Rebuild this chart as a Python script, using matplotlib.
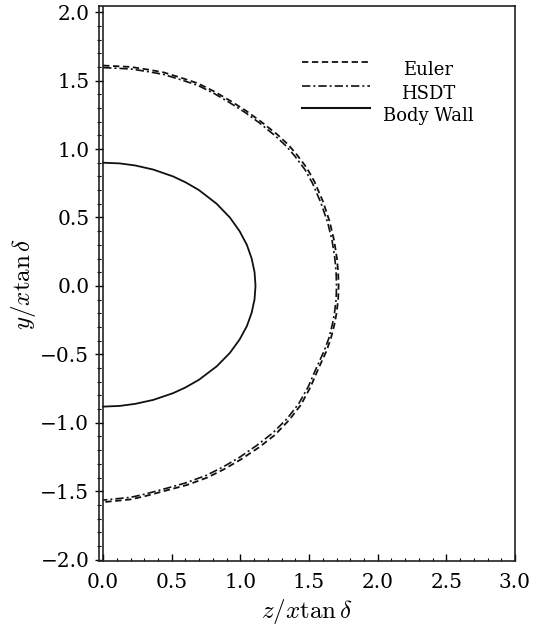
import matplotlib
matplotlib.use('Agg')
import matplotlib.pyplot as plt
from matplotlib.ticker import MultipleLocator, FuncFormatter
from matplotlib.lines import Line2D

plt.rcParams['font.family'] = ['DejaVu Serif']
plt.rcParams['mathtext.fontset'] = 'cm'
plt.rcParams['axes.unicode_minus'] = True

# Shock positions (z/x tan(delta), y/x tan(delta)), top to bottom
euler_z = [0.0, 0.2, 0.33, 0.44, 0.57, 0.69, 0.81, 0.93, 1.04, 1.15, 1.27, 1.35, 1.41, 1.485,
           1.54, 1.60, 1.65, 1.683, 1.703, 1.712, 1.715,
           1.712, 1.70, 1.685, 1.66, 1.625, 1.57, 1.51, 1.44, 1.355, 1.25, 1.135, 1.0,
           0.88, 0.76, 0.61, 0.44, 0.31, 0.2, 0.0]
euler_y = [1.61, 1.60, 1.58, 1.56, 1.52, 1.48, 1.42, 1.35, 1.28, 1.20, 1.105, 1.03, 0.96, 0.86,
           0.76, 0.62, 0.47, 0.33, 0.20, 0.10, 0.0,
           -0.10, -0.20, -0.28, -0.38, -0.48, -0.60, -0.74, -0.87, -0.98, -1.09, -1.18, -1.27,
           -1.34, -1.40, -1.455, -1.50, -1.535, -1.56, -1.58]

hsdt_z = [0.0, 0.2, 0.33, 0.44, 0.57, 0.69, 0.81, 0.92, 1.03, 1.14, 1.255, 1.335, 1.395, 1.47,
          1.525, 1.585, 1.635, 1.668, 1.688, 1.697, 1.70,
          1.697, 1.685, 1.67, 1.645, 1.61, 1.555, 1.495, 1.425, 1.34, 1.235, 1.12, 0.99,
          0.87, 0.75, 0.60, 0.44, 0.31, 0.2, 0.0]
hsdt_y = [1.595, 1.585, 1.565, 1.545, 1.505, 1.465, 1.405, 1.34, 1.27, 1.19, 1.095, 1.02, 0.95, 0.85,
          0.75, 0.61, 0.465, 0.33, 0.20, 0.10, 0.0,
          -0.10, -0.20, -0.28, -0.38, -0.475, -0.595, -0.735, -0.86, -0.97, -1.075, -1.165, -1.255,
          -1.325, -1.385, -1.44, -1.485, -1.52, -1.545, -1.565]

# Body wall cross-section
body_z = [0.0, 0.12, 0.233, 0.365, 0.509, 0.60, 0.698, 0.827, 0.923, 0.994, 1.047, 1.082, 1.103, 1.11,
          1.103, 1.082, 1.047, 0.994, 0.923, 0.827, 0.698, 0.60, 0.509, 0.365, 0.233, 0.12, 0.0]
body_y = [0.90, 0.895, 0.88, 0.85, 0.80, 0.757, 0.70, 0.60, 0.50, 0.40, 0.30, 0.20, 0.10, 0.0,
          -0.098, -0.196, -0.294, -0.392, -0.49, -0.588, -0.686, -0.742, -0.784, -0.833, -0.862, -0.877, -0.882]

fig = plt.figure(figsize=(5.34, 6.25), dpi=100)
ax = fig.add_axes([0.1854, 0.1024, 0.779, 0.888])

ax.plot(euler_z, euler_y, color='#111111', lw=1.3, dashes=(3.5, 2.0))
ax.plot(hsdt_z, hsdt_y, color='#111111', lw=1.2, dashes=(5.0, 1.8, 1.2, 1.8))
ax.plot(body_z, body_y, color='#111111', lw=1.3)
ax.axvline(0.0, color='#111111', lw=1.1)

ax.set_xlim(-0.03, 3.0)
ax.set_ylim(-2.01, 2.045)

ax.xaxis.set_major_locator(MultipleLocator(0.5))
ax.xaxis.set_minor_locator(MultipleLocator(0.1))
ax.yaxis.set_major_locator(MultipleLocator(0.5))
ax.yaxis.set_minor_locator(MultipleLocator(0.1))
fmt = FuncFormatter(lambda v, p: '%.1f' % v if v >= 0 else '\u2212%.1f' % abs(v))
ax.xaxis.set_major_formatter(fmt)
ax.yaxis.set_major_formatter(fmt)

ax.tick_params(axis='x', which='major', direction='in', length=5, width=1.0, labelsize=14.5, pad=9)
ax.tick_params(axis='x', which='minor', direction='in', length=2.5, width=0.8)
ax.tick_params(axis='y', which='major', direction='inout', length=6, width=1.0, labelsize=14.5, pad=4)
ax.tick_params(axis='y', which='minor', direction='inout', length=3, width=0.8)

for s in ax.spines.values():
    s.set_linewidth(1.2)
    s.set_color('#222222')

ax.set_xlabel(r'$z/x\tan\delta$', fontsize=18, labelpad=3)
ax.set_ylabel(r'$y/x\tan\delta$', fontsize=18, labelpad=2)

# legend drawn by hand: short line samples with centred labels
labels = ['Euler', 'HSDT', 'Body Wall']
styles = [dict(lw=1.3, dashes=(3.5, 2.0)), dict(lw=1.2, dashes=(5.0, 1.8, 1.2, 1.8)), dict(lw=1.5)]
rows = [0.899, 0.856, 0.816]
for lab, st, r in zip(labels, styles, rows):
    ax.add_line(Line2D([0.488, 0.651], [r, r], transform=ax.transAxes, color='#111111', **st))
    ax.text(0.791, r - 0.023, lab, transform=ax.transAxes, ha='center', va='baseline', fontsize=13)

fig.savefig('out.png', dpi=100)
